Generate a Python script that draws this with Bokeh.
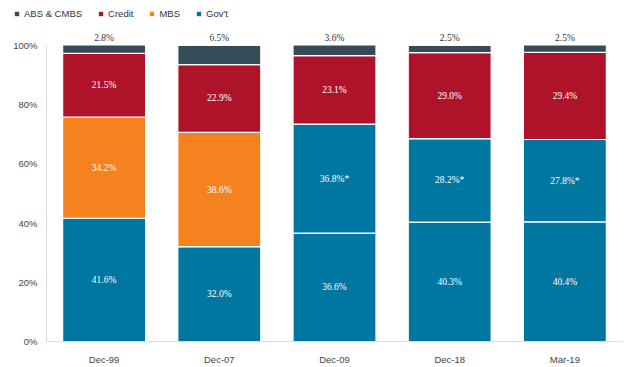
from bokeh.plotting import figure
from bokeh.layouts import column, row
from bokeh.models import (ColumnDataSource, Legend, LegendItem, LabelSet,
                          FixedTicker, Range1d, PrintfTickFormatter)
from bokeh.embed import file_html
from bokeh.resources import INLINE

periods = ["Dec-99", "Dec-07", "Dec-09", "Dec-18", "Mar-19"]
govt = [41.6, 32.0, 36.6, 40.3, 40.4]
govt_star = [0.0, 0.0, 36.8, 28.2, 27.8]
mbs = [34.2, 38.6, 0.0, 0.0, 0.0]
credit = [21.5, 22.9, 23.1, 29.0, 29.4]
abs_cmbs = [2.8, 6.5, 3.6, 2.5, 2.5]
y_ticks = [0, 20, 40, 60, 80, 100]
legend_labels = ["ABS & CMBS", "Credit", "MBS", "Gov't"]
legend_keys = ["abs_cmbs", "credit", "mbs", "govt"]

C_GOV = "#0077a0"
C_MBS = "#f5821f"
C_CREDIT = "#ae132a"
C_ABS = "#354b58"
FONT = "Liberation Sans"

xs = list(range(len(periods)))
src = ColumnDataSource(dict(x=xs, govt=govt, govt_star=govt_star, mbs=mbs,
                            credit=credit, abs_cmbs=abs_cmbs))

p = figure(width=635, height=347, output_backend="svg", toolbar_location=None,
           x_range=Range1d(-0.5, len(periods) - 0.5), y_range=Range1d(0, 105),
           min_border_left=46, min_border_right=13, min_border_top=10,
           min_border_bottom=26)

stackers = ["govt", "govt_star", "mbs", "credit", "abs_cmbs"]
colors = [C_GOV, C_GOV, C_MBS, C_CREDIT, C_ABS]
rs = p.vbar_stack(stackers, x="x", width=0.72, source=src, color=colors,
                  line_color="white", line_width=1.2)

# labels
lx, ly, lt = [], [], []
for i in xs:
    base = 0.0
    for key, vals in [("govt", govt), ("govt_star", govt_star), ("mbs", mbs), ("credit", credit)]:
        v = vals[i]
        if v > 0:
            lx.append(i)
            ly.append(base + v / 2)
            lt.append(f"{v:.1f}%" + ("*" if key == "govt_star" else ""))
        base += v
lsrc = ColumnDataSource(dict(x=lx, y=ly, t=lt))
p.add_layout(LabelSet(x="x", y="y", text="t", source=lsrc, text_color="white",
                      text_font=FONT, text_font_size="9.5px", text_align="center",
                      text_baseline="middle"))

tops = [govt[i] + govt_star[i] + mbs[i] + credit[i] + abs_cmbs[i] for i in xs]
tsrc = ColumnDataSource(dict(x=xs, y=tops, t=[f"{v:.1f}%" for v in abs_cmbs]))
p.add_layout(LabelSet(x="x", y="y", text="t", source=tsrc, text_color="#333333",
                      text_font=FONT, text_font_size="9.5px", text_align="center",
                      text_baseline="bottom", y_offset=2))

# axes
p.xgrid.visible = False
p.ygrid.visible = False
p.outline_line_color = None
p.xaxis.ticker = FixedTicker(ticks=xs)
p.xaxis.major_label_overrides = {i: s for i, s in zip(xs, periods)}
p.yaxis.ticker = FixedTicker(ticks=y_ticks)
p.yaxis.formatter = PrintfTickFormatter(format="%d%%")
p.yaxis.bounds = (0, 100)
for ax in (p.xaxis, p.yaxis):
    ax.axis_line_color = "#dcdcdc"
    ax.major_tick_line_color = None
    ax.minor_tick_line_color = None
    ax.major_tick_out = 0
    ax.major_tick_in = 0
    ax.major_label_text_font = FONT
    ax.major_label_text_font_size = "9.5px"
    ax.major_label_text_color = "#444444"
p.yaxis.major_label_standoff = 9
p.xaxis.major_label_standoff = 12

# legend strip above the chart (its bars lie outside its own visible range)
lf = figure(width=635, height=20, output_backend="svg", toolbar_location=None,
            x_range=Range1d(-20, -19), y_range=Range1d(0, 1),
            x_axis_location=None, y_axis_location=None,
            min_border_left=0, min_border_right=0, min_border_top=0,
            min_border_bottom=0)
lf.grid.visible = False
lf.outline_line_color = None
items = []
for lab, key, col in zip(legend_labels, legend_keys, [C_ABS, C_CREDIT, C_MBS, C_GOV]):
    r = lf.vbar(x="x", top=key, width=0.5, source=src, fill_color=col,
                line_color="white", line_width=1.2)
    items.append(LegendItem(label=lab, renderers=[r]))
legend = Legend(items=items, orientation="horizontal", location=(13, 1),
                padding=0, margin=0, spacing=15, glyph_width=7, glyph_height=7,
                label_standoff=4, label_height=9, label_text_font=FONT,
                label_text_font_size="9.5px", label_text_color="#333333",
                border_line_color=None, background_fill_alpha=0)
lf.add_layout(legend)

if "frame_align" in lf.properties():
    lf.frame_align = False
    p.frame_align = False
    layout = column(lf, p, spacing=0)
else:
    layout = column(row(lf), p, spacing=0)
open("out.html", "w").write(file_html(layout, INLINE))
